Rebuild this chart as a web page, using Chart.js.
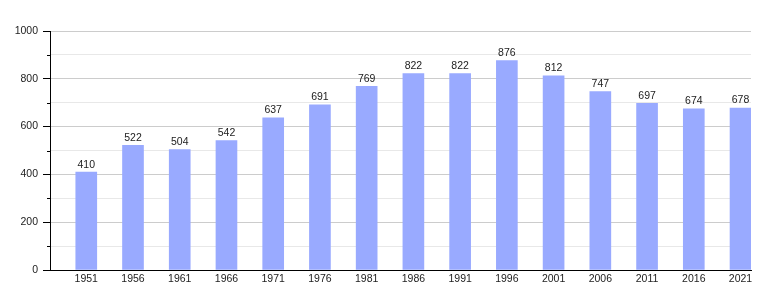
<!DOCTYPE html>
<html>
<head>
<meta charset="utf-8">
<script src="https://cdn.jsdelivr.net/npm/chart.js@4/dist/chart.umd.min.js"></script>
<style>
  html, body { margin: 0; padding: 0; background: #fff; }
  #wrap { width: 780px; height: 300px; }
</style>
</head>
<body>
<div id="wrap"><canvas id="c" width="780" height="300"></canvas></div>
<script>
// years and population
const years = [1951, 1956, 1961, 1966, 1971, 1976, 1981, 1986, 1991, 1996, 2001, 2006, 2011, 2016, 2021];
const population = [410, 522, 504, 542, 637, 691, 769, 822, 822, 876, 812, 747, 697, 674, 678];
const yTicks = [0, 200, 400, 600, 800, 1000];

const barColor = '#99aaff';
const font = { family: '"Liberation Sans", Arial, sans-serif', size: 10.5 };

// numbers over bars + short minor ticks on y axis
const extras = {
  id: 'extras',
  afterDatasetsDraw(chart) {
    const ctx = chart.ctx;
    const meta = chart.getDatasetMeta(0);
    ctx.save();
    ctx.font = font.size + 'px ' + font.family;
    ctx.fillStyle = '#222';
    ctx.textAlign = 'center';
    ctx.textBaseline = 'alphabetic';
    meta.data.forEach((bar, i) => {
      ctx.fillText(String(population[i]), bar.x, bar.y - 4.5);
    });
    // minor ticks
    const ys = chart.scales.y;
    ctx.strokeStyle = '#000';
    ctx.lineWidth = 1;
    for (let v = 100; v < 1000; v += 200) {
      const py = Math.round(ys.getPixelForValue(v)) + 0.5;
      ctx.beginPath();
      ctx.moveTo(ys.right - 3, py);
      ctx.lineTo(ys.right, py);
      ctx.stroke();
    }
    ctx.restore();
  }
};

new Chart(document.getElementById('c'), {
  type: 'bar',
  data: {
    datasets: [{
      data: years.map((y, i) => ({ x: y, y: population[i] })),
      backgroundColor: barColor,
      borderWidth: 0,
      barThickness: 21
    }]
  },
  options: {
    responsive: false,
    animation: false,
    layout: { padding: { top: 31, right: 29, left: 0, bottom: 0 } },
    plugins: { legend: { display: false }, tooltip: { enabled: false } },
    scales: {
      x: {
        type: 'linear',
        offset: false,
        min: 1947.12,
        max: 2022.12,
        afterBuildTicks: s => { s.ticks = years.map(v => ({ value: v })); },
        afterFit: s => { s.height = 30; },
        grid: { display: false, drawTicks: false, offset: false },
        border: { display: true, color: '#000', width: 1 },
        ticks: {
          color: '#222',
          font: font,
          padding: 3,
          maxRotation: 0,
          autoSkip: false,
          callback: v => String(v)
        }
      },
      y: {
        min: 0,
        max: 1000,
        afterFit: s => { s.width = 50; },
        ticks: {
          stepSize: 100,
          color: '#222',
          font: font,
          padding: 5,
          callback: v => (yTicks.includes(v) ? String(v) : '')
        },
        grid: {
          color: c => (c.tick && c.tick.value % 200 === 0 ? '#cccccc' : '#e8e8e8'),
          tickColor: c => (c.tick && c.tick.value % 200 === 0 ? '#000' : 'rgba(0,0,0,0)'),
          tickLength: 7
        },
        border: { display: true, color: '#000', width: 1 }
      }
    }
  },
  plugins: [extras]
});
</script>
</body>
</html>
